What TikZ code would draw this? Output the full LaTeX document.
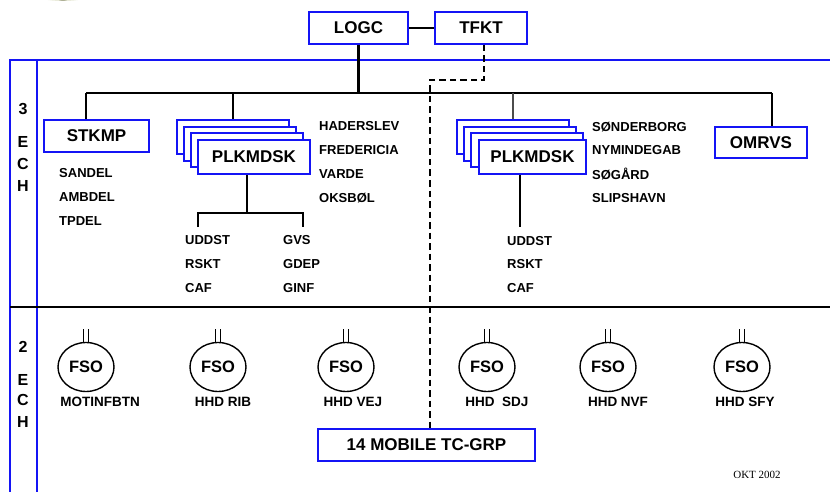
\documentclass[tikz,border=0pt]{standalone}
\usepackage{fontspec}
\setmainfont{Liberation Sans}
\newfontfamily\serifdate{Liberation Serif}
\usetikzlibrary{calc,shapes.geometric}
\definecolor{frameblue}{RGB}{20,20,245}
\definecolor{logogreen}{RGB}{170,175,110}
\tikzset{
  unitbox/.style={draw=frameblue, line width=2pt, fill=white, inner sep=0pt,
    font=\bfseries\fontsize{17}{19}\selectfont},
  stackbox/.style={unitbox, minimum width=112pt, minimum height=34pt},
  lbl/.style={anchor=west, inner sep=0pt, font=\bfseries\fontsize{13}{15}\selectfont},
  fsolbl/.style={inner sep=0pt, font=\bfseries\fontsize{13.5}{15}\selectfont},
  echlbl/.style={inner sep=0pt, font=\bfseries\fontsize{16}{18}\selectfont},
  fso/.style={draw, line width=1.4pt, ellipse, minimum width=56pt, minimum height=49pt,
    inner sep=0pt, font=\bfseries\fontsize{16.5}{18}\selectfont},
  conn/.style={line width=2.2pt},
  framel/.style={draw=frameblue, line width=1.8pt},
  dashconn/.style={line width=2pt, dash pattern=on 6.5pt off 4pt},
}
\begin{document}
\begin{tikzpicture}[x=1pt, y=-1pt]
\useasboundingbox (0,0) rectangle (830,492);

% faint logo remnant at the top edge
\fill[logogreen, opacity=0.25] (63,-6) ellipse (30pt and 7pt);
\fill[logogreen!60!black, opacity=0.45] (63,-5) ellipse (8pt and 6pt);

% frame
\draw[framel] (10,492) -- (10,60) -- (830,60);
\draw[framel] (37,60) -- (37,492);
\draw[line width=2.4pt] (10,307) -- (830,307);

% echelon labels
\foreach \t/\y in {3/109, E/142, C/164, H/186, 2/347, E/380, C/400, H/422}
  \node[echlbl] at (23,\y) {\t};

% top units
\node[unitbox, minimum width=99pt, minimum height=32pt] (logc) at (358.5,28) {LOGC};
\node[unitbox, minimum width=92pt, minimum height=32pt] (tfkt) at (481,28) {TFKT};
\draw[conn, line width=1.8pt] (logc.east) -- (tfkt.west);

% bus
\coordinate (busL) at (86,93);
\coordinate (busR) at (772,93);
\draw[conn] (logc.south) -- (logc.south |- busL);
\draw[conn] (busL) -- (busR);

% STKMP
\node[unitbox, minimum width=105pt, minimum height=32pt] (stkmp) at (96.5,136) {STKMP};
\draw[conn] (busL) -- (busL |- stkmp.north);
\node[lbl] (sandel) at (59,173) {SANDEL};
\node[lbl] (ambdel) at (59,197) {AMBDEL};
\node[lbl] (tpdel) at (59,221) {TPDEL};

% left PLKMDSK stack
\node[stackbox] (lp1) at (233,137) {};
\node[stackbox] (lp2) at (240,143.7) {};
\node[stackbox] (lp3) at (247,150.3) {};
\node[stackbox] (lp) at (254,157) {PLKMDSK};
\coordinate (lpdrop) at (233,93);
\draw[conn] (lpdrop) -- (lp1.north);
\foreach \t/\y in {HADERSLEV/126, FREDERICIA/150, VARDE/174, OKSB\O L/198}
  \node[lbl] at (319,\y) {\t};
\coordinate (lfork) at (247,213);
\coordinate (lforkL) at (198,213);
\coordinate (lforkR) at (303,213);
\draw[conn] (lfork |- lp.south) -- (lfork);
\draw[conn] ($(lforkL)+(0,14)$) -- (lforkL) -- (lforkR) -- ($(lforkR)+(0,14)$);
\foreach \t/\y in {UDDST/240, RSKT/264, CAF/288}
  \node[lbl] at (185,\y) {\t};
\foreach \t/\y in {GVS/240, GDEP/264, GINF/288}
  \node[lbl] at (283,\y) {\t};

% right PLKMDSK stack
\node[stackbox] (rp1) at (513,137) {};
\node[stackbox] (rp2) at (519.5,143.7) {};
\node[stackbox] (rp3) at (527,150.3) {};
\node[stackbox, minimum width=107pt] (rp) at (532.5,157) {PLKMDSK};
\draw[line width=1.4pt, black!70] (rp1.north |- busL) -- (rp1.north);
\coordinate (rdrop) at (520,227);
\draw[conn] (rdrop |- rp.south) -- (rdrop);
\foreach \t/\y in {S\O NDERBORG/127, NYMINDEGAB/150, S\O G\AA RD/174, SLIPSHAVN/198}
  \node[lbl] at (592,\y) {\t};
\foreach \t/\y in {UDDST/241, RSKT/264, CAF/288}
  \node[lbl] at (507,\y) {\t};

% OMRVS
\node[unitbox, minimum width=92pt, minimum height=31pt] (omrvs) at (761,142.5) {OMRVS};
\draw[conn] (busR) -- (busR |- omrvs.north);

% mobile group and dashed link from TFKT
\node[unitbox, minimum width=217pt, minimum height=32pt] (mob) at (426.5,445) {14 MOBILE TC-GRP};
\coordinate (dk) at (430,80);
\draw[dashconn] ([xshift=3pt]tfkt.south) |- (dk) -- (dk |- mob.north);

% FSO units
\foreach \n/\x/\lx/\t in {f1/86/100/MOTINFBTN, f2/218/223/HHD RIB, f3/346/353/HHD VEJ,
                          f4/487/497/HHD\ \ SDJ, f5/608/618/HHD NVF, f6/742/745/HHD SFY}{
  \node[fso] (\n) at (\x,367) {FSO};
  \draw[line width=1.7pt] ([xshift=-2.6pt]\n.north) -- ++(0,-13);
  \draw[line width=1.7pt] ([xshift=2.6pt]\n.north) -- ++(0,-13);
  \node[fsolbl] at (\lx,402) {\t};
}

% date
\node[font=\serifdate\fontsize{11}{13}\selectfont, inner sep=0pt] (date) at (757,475) {OKT 2002};
\end{tikzpicture}
\end{document}
